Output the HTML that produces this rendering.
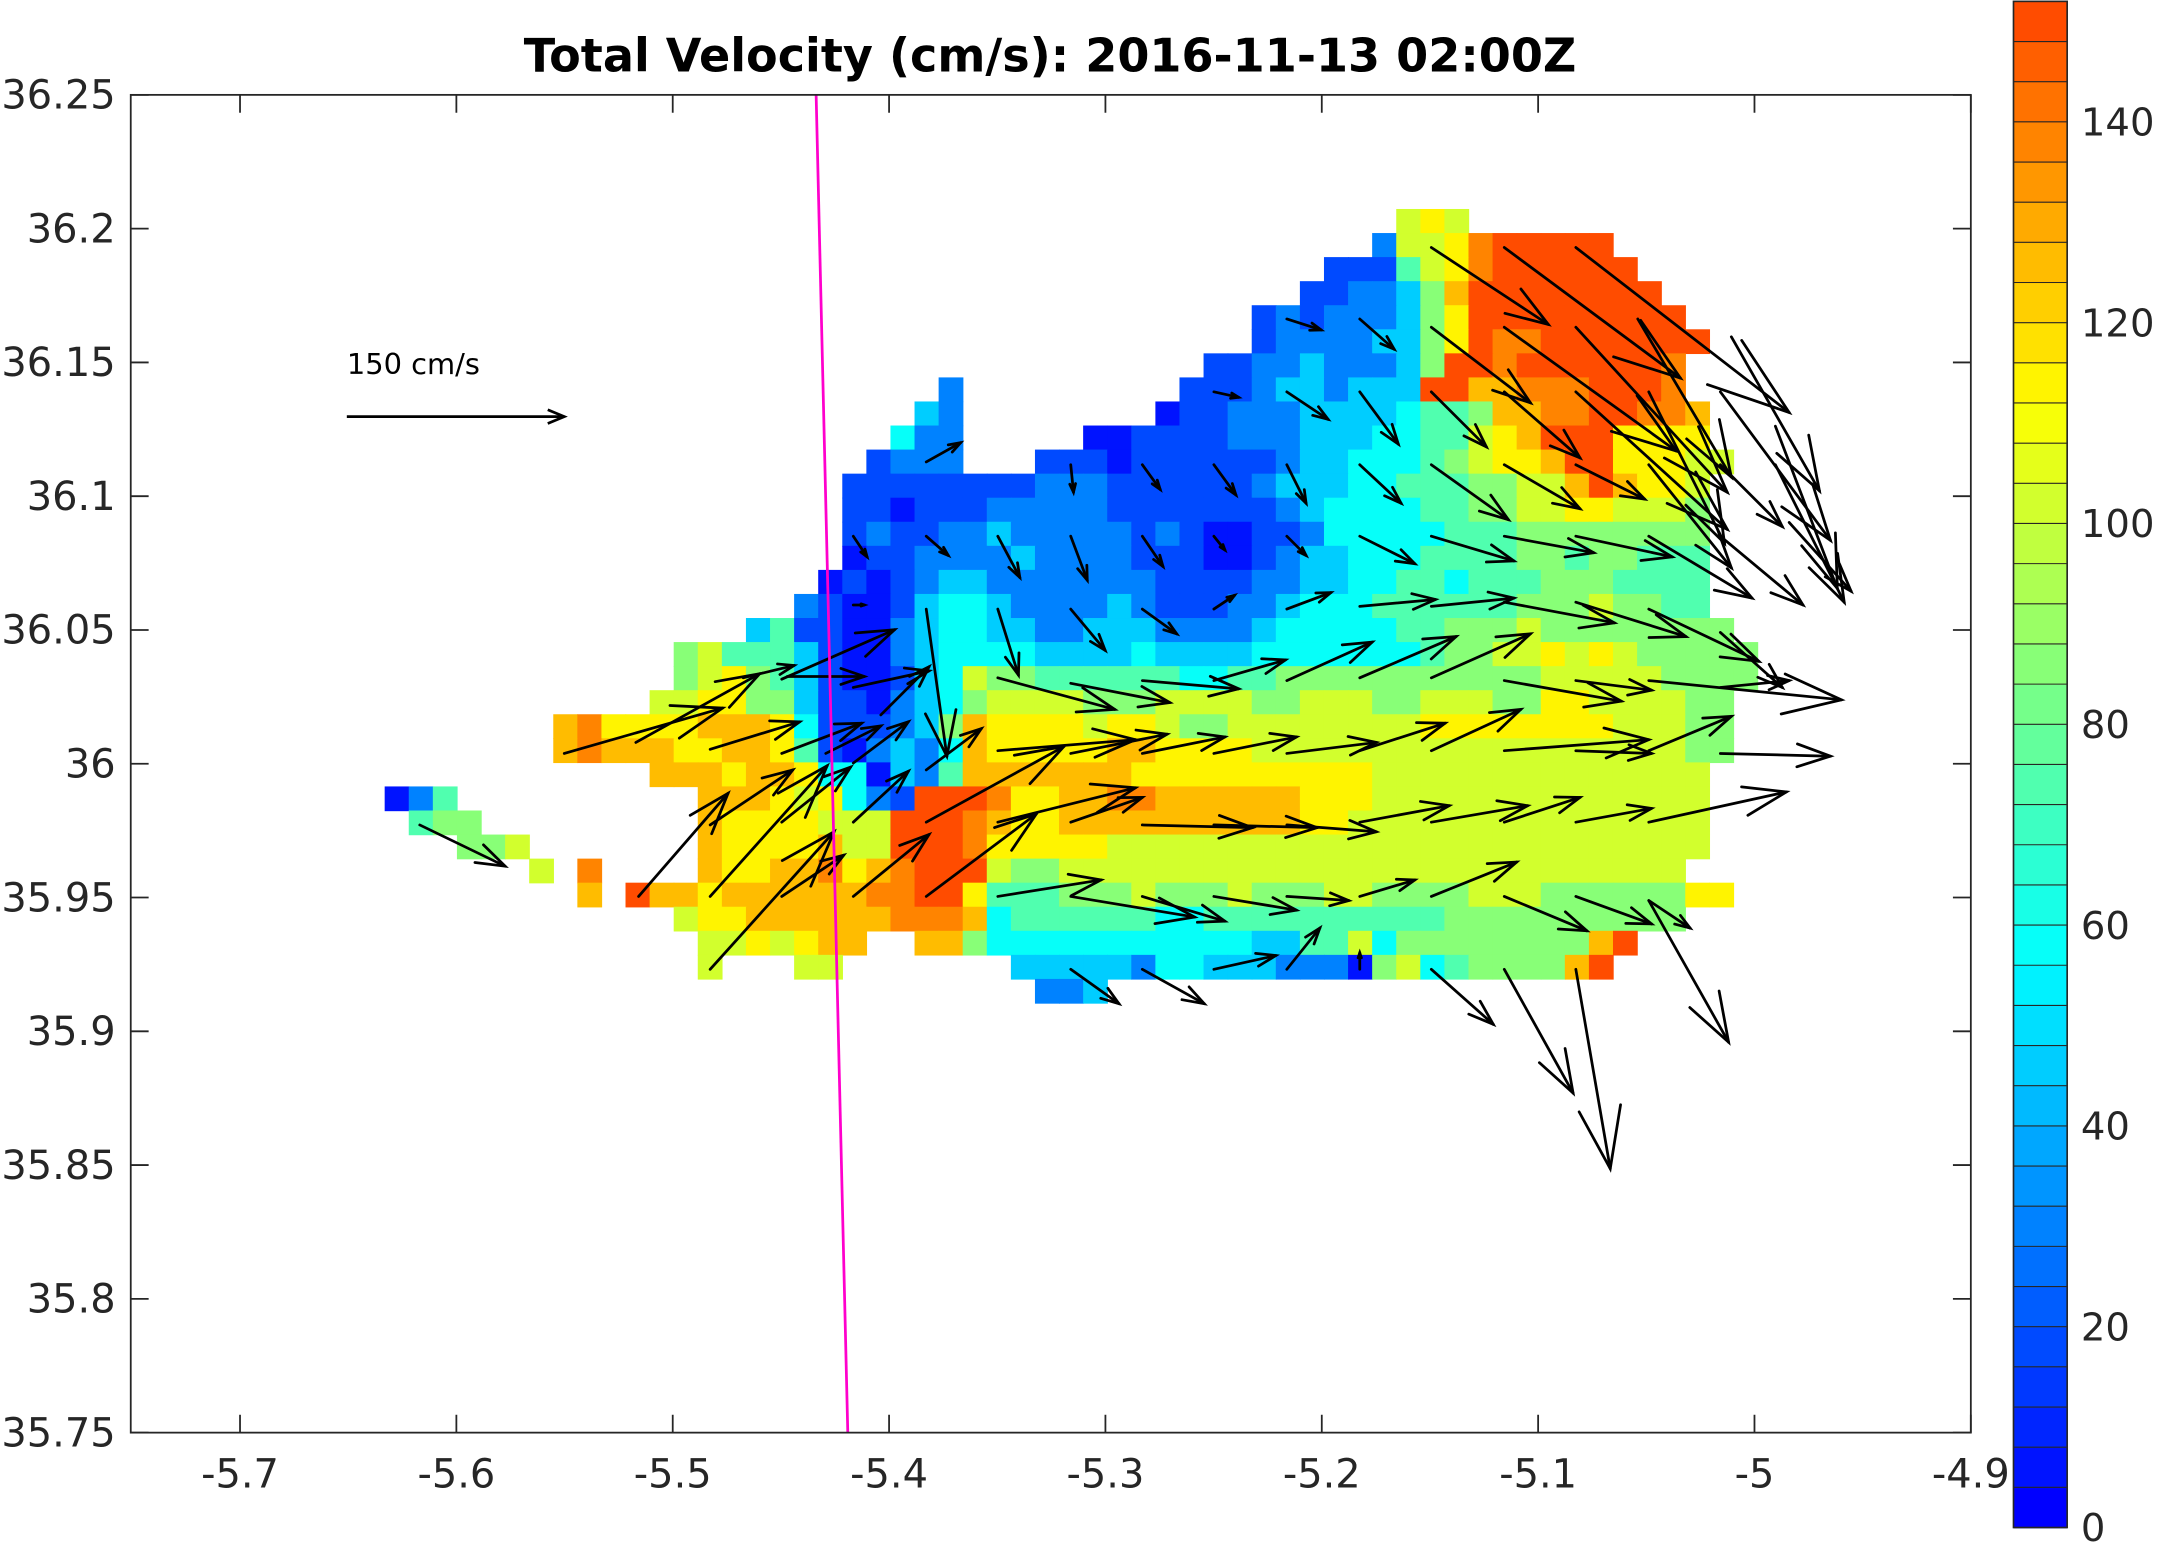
<!DOCTYPE html>
<html><head><meta charset="utf-8"><style>html,body{margin:0;padding:0;background:#fff}svg{display:block}</style></head>
<body>
<svg id="s" xmlns="http://www.w3.org/2000/svg" width="2158" height="1544" viewBox="0 0 1568 1123" preserveAspectRatio="none" font-family="'DejaVu Sans','Liberation Sans',sans-serif">
<rect width="1568" height="1123" fill="#fff"/>
<g id="cells"></g>
<g id="arrows" stroke="#000" stroke-width="2" fill="none" stroke-linecap="round"></g>
<line x1="593" y1="69" x2="616" y2="1042" stroke="#ff00cc" stroke-width="2"/>
<rect x="95" y="69" width="1337" height="973" fill="none" stroke="#262626" stroke-width="1.3"/>
<g id="ticks" stroke="#262626" stroke-width="1.3"></g>
<g id="labels" fill="#262626" font-size="29"></g>
<text x="763" y="52" text-anchor="middle" font-size="33.5" font-weight="bold" fill="#000">Total Velocity (cm/s): 2016-11-13 02:00Z</text>
<text x="252" y="272" font-size="21" fill="#000">150 cm/s</text>
<g stroke="#000" stroke-width="2" fill="none"><line x1="252" y1="303" x2="410" y2="303"/><polyline points="398,298 410,303 398,308"/></g>
<g id="cbar"></g>
</svg>
<script>
var NS="http://www.w3.org/2000/svg";
function el(p,t,a,txt){var e=document.createElementNS(NS,t);for(var k in a)e.setAttribute(k,a[k]);if(txt!=null)e.textContent=txt;p.appendChild(e);return e;}
function cl(v){return Math.max(0,Math.min(1,v));}
function jet(t){var r=cl(1.5-Math.abs(4*t-3)),g=cl(1.5-Math.abs(4*t-2)),b=cl(1.5-Math.abs(4*t-1));
return "rgb("+Math.round(r*255)+","+Math.round(g*255)+","+Math.round(b*255)+")";}
function bandColor(i){return jet(0.125+0.675*i/37);}
function valColor(v){var i=Math.min(37,Math.floor(v/4));return bandColor(i);}
var codes={B:4,b:16,m:30,c:45,C:58,t:72,g:86,l:100,y:112,Y:124,o:136,r:150};
var rows=[
[0,42,"lyl"],[1,41,"mllyorrrrr"],[2,39,"bbbtlyorrrrrr"],[3,38,"bbmmcgYrrrrrrrr"],
[4,36,"bmbmmmcgyrrrrrrrrr"],[5,36,"bmmmmccgyroorrrrrrr"],[6,34,"bbmmcmmmcgrrorrrrrro"],
[7,23,"m"],[7,33,"bbbmccmcccrrYYooorrro"],[8,22,"cm"],[8,32,"BbbmmmccccCttgYYoorrooY"],
[9,21,"Cmm"],[9,29,"BBbbbbmmmcccCCttlyYrrryyyy"],[10,20,"bmmm"],[10,27,"bbbBbbbbbbmccCCCtglyyYrryyyll"],
[11,19,"bbbbbbbbmmmbbbbbbmcccCCtttggllYrYyyll".slice(0,36)],
[12,19,"bbBbbbmmmmmbbbbbbbmcCCCCttggllyylllg"],
[13,19,"bmbbmmcmmmmmbmbBBbbmCCCCCtttgggggggg"],
[14,19,"BbbmmmmcmmmmbbbBBbmccCCCttttggtggttt"],
[15,18,"BbBbmccmmmmmmmbbbbmmccCCttCtttgggtttt"],
[16,17,"mbBBbcCCcmmmmcmbbbmmcCCCttttttggglggtt"],
[17,15,"ctbbBBmcCCccmmcccmmmmcCCCCCttggglgggggggg"],
[18,12,"gltttcbBBmcCCCCccccCccccCCCCCCCtggllylylggggg"],
[19,12,"glygtcbBBbcClggttttttCCttggggggggggglllllgggg".slice(0,45)],
[20,11,"llyyggcbbBmcCgllllgggllllgglllgglllggyyllllgg"],
[21,7,"YoyyyyYYYyCbbbmcgYyyyylyylggllllllllyyyyyyyylllgg"],
[22,7,"YoYYYyyYYytbBmcmCYyyyyyYYyyyyllllllllllllllllllgg"],
[23,11,"YYYyYYyCCBcmtYYYYYYYyyyyyyyyyyllllllllllllll"],
[24,0,"Bmt"],[24,13,"YYYylyCmbrrroyyYYooYYYYYYyyyllllllllllllll"],
[25,1,"tgg"],[25,13,"YyyyylllrrroYyyYYYYYYYYYYyyllllllllllllllll".slice(0,42)],
[26,3,"ggl"],[26,13,"YyyyyYllrrroyyyyylllllllllllllllllllllllll"],
[27,6,"l"],[27,8,"o"],[27,13,"YyyYYoyYorrrlgglllllllllllllllllllllllllll".slice(0,41)],
[28,8,"Y"],[28,10,"rYYyYYYYYYoorrytttggglggglgggllgggglllggggggyy"],
[29,12,"lyyYYYYYYoooYCttttttCCttttttttttgggggggggggl".slice(0,42)],
[30,13,"llylyYY..YYgCCCCCCCCCCCccttlCggggggggYr"],
[31,13,"l"],[31,17,"ll"],[31,26,"cccccmCCcccmmmBglCtggggYr"],
[32,27,"mmc"]];
var g=document.getElementById("cells");
rows.forEach(function(r){var s=r[2];for(var i=0;i<s.length;i++){var ch=s[i];if(!(ch in codes))continue;
el(g,"rect",{x:(279.5+17.5*(r[1]+i)).toFixed(1),y:(152+17.5*r[0]).toFixed(1),width:18,height:18,fill:valColor(codes[ch])});}});
var A=[
[1040,180,85,56],[1093,180,128,95],[1145,180,155,120],
[935,232,25,8],[988,232,25,22],[1040,238,72,55],[1093,238,125,90],[1145,238,110,120],[1190,232,68,115],[1258,245,64,112],
[882,285,18,4],[935,285,30,20],[988,285,28,38],[1040,285,40,40],[1093,285,55,48],[1145,285,110,100],[1198,285,55,110],[1250,285,80,108],[1290,310,45,118],
[673,336,25,-14],[778,338,2,20],[830,338,13,18],[882,338,16,22],[935,338,14,28],[988,338,30,28],[1040,338,56,40],[1093,338,55,32],[1145,338,50,25],[1198,338,60,75],[1250,338,45,45],[1290,338,50,100],
[620,390,10,15],[673,390,16,14],[725,390,16,30],[778,390,12,32],[830,390,15,22],[882,390,8,10],[935,390,14,14],[988,390,40,20],[1040,390,60,18],[1093,390,65,12],[1145,390,70,15],[1198,390,75,45],[1250,390,60,50],[1300,380,45,50],
[620,440,8,0],[673,443,15,107],[725,443,15,48],[778,443,25,30],[830,443,25,18],[882,443,15,-10],[935,443,32,-12],[988,441,55,-5],[1040,441,60,-6],[1093,438,80,15],[1145,438,80,25],[1198,443,80,38],[1250,460,45,40],
[540,493,37,-9],[572,492,56,0],[568,494,82,-36],[620,500,55,-12],[640,520,35,-35],[725,493,85,23],[778,497,72,14],[830,495,70,6],[882,495,52,-15],[935,495,62,-28],[988,493,70,-30],[1040,493,72,-32],[1093,495,85,15],[1145,495,55,7],[1198,495,140,14],[1250,500,50,-5],
[410,548,115,-33],[462,540,90,-50],[516,545,65,-20],[568,548,58,-22],[600,548,40,-20],[620,555,40,-30],[673,560,40,-30],[725,546,100,-8],[778,548,70,-14],[830,548,60,-12],[882,548,60,-12],[935,548,65,-8],[988,546,62,-20],[1040,546,65,-30],[1093,546,105,-8],[1145,546,55,2],[1198,546,60,-25],[1250,548,80,2],
[305,600,62,30],[516,600,60,-40],[568,598,50,-40],[620,598,40,-37],[673,598,100,-55],[725,598,100,-25],[778,598,52,-18],[830,600,80,2],[882,600,75,2],[935,600,65,5],[988,598,65,-12],[1040,598,70,-12],[1093,598,55,-18],[1145,598,55,-10],[1198,598,100,-22],
[464,652,65,-75],[516,652,85,-95],[568,652,45,-30],[620,652,55,-45],[673,652,80,-60],[725,652,75,-12],[778,652,90,15],[830,652,60,18],[882,652,60,10],[935,652,45,3],[988,652,40,-12],[1040,652,62,-25],[1093,652,60,25],[1145,652,55,20],[1198,655,30,20],
[516,705,90,-100],[778,705,35,25],[830,705,45,25],[882,705,45,-10],[935,705,24,-30],[988,705,0,-12],[1040,705,45,40],[1093,705,50,90],[1145,705,25,145],[1198,655,58,103]];
var ag=document.getElementById("arrows");
A.forEach(function(a){var x=a[0],y=a[1],tx=x+a[2],ty=y+a[3],L=Math.hypot(a[2],a[3]);if(L<1)return;
var ux=a[2]/L,uy=a[3]/L,h=L*0.32,an=0.33,c=Math.cos(an),s=Math.sin(an);
var p1x=tx-h*(ux*c-uy*s),p1y=ty-h*(uy*c+ux*s),p2x=tx-h*(ux*c+uy*s),p2y=ty-h*(uy*c-ux*s);
el(ag,"line",{x1:x,y1:y,x2:tx,y2:ty});
el(ag,"polyline",{points:p1x.toFixed(1)+","+p1y.toFixed(1)+" "+tx+","+ty+" "+p2x.toFixed(1)+","+p2y.toFixed(1)});});
var tk=document.getElementById("ticks"),lb=document.getElementById("labels");
var xs=["-5.7","-5.6","-5.5","-5.4","-5.3","-5.2","-5.1","-5","-4.9"];
for(var i=0;i<9;i++){var x=174.4+157.2*i;
el(tk,"line",{x1:x,y1:1042,x2:x,y2:1029});el(tk,"line",{x1:x,y1:69,x2:x,y2:82});
el(lb,"text",{x:x,y:1082,"text-anchor":"middle"},xs[i]);}
var ys=["36.25","36.2","36.15","36.1","36.05","36","35.95","35.9","35.85","35.8","35.75"];
for(var j=0;j<11;j++){var y=69+97.3*j;
el(tk,"line",{x1:95,y1:y,x2:108,y2:y});el(tk,"line",{x1:1432,y1:y,x2:1419,y2:y});
el(lb,"text",{x:84,y:y+10,"text-anchor":"end"},ys[j]);}
var cb=document.getElementById("cbar");var ctop=1,cbot=1111,bh=(cbot-ctop)/38;
for(var k=0;k<38;k++){el(cb,"rect",{x:1463,y:(cbot-(k+1)*bh).toFixed(2),width:39,height:(bh+0.6).toFixed(2),fill:bandColor(k)});}
for(var k=1;k<38;k++){var yy=cbot-k*bh;el(cb,"line",{x1:1463,y1:yy,x2:1502,y2:yy,stroke:"#262626","stroke-width":0.8});}
el(cb,"rect",{x:1463,y:ctop,width:39,height:cbot-ctop,fill:"none",stroke:"#262626","stroke-width":1.2});
for(var v=0;v<=140;v+=20){var yv=cbot-v*(cbot-ctop)/152;el(cb,"text",{x:1512,y:yv+10,"font-size":28,fill:"#262626"},String(v));}
</script>
</body></html>
